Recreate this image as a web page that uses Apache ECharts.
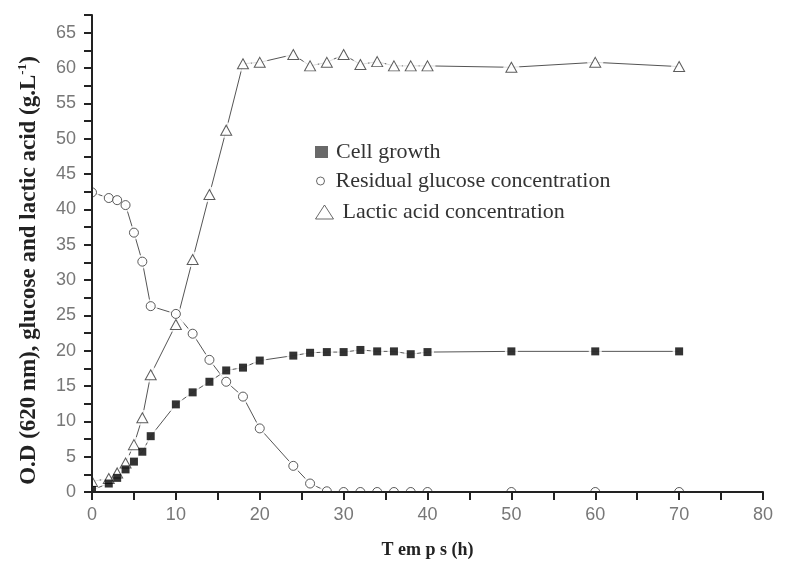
<!DOCTYPE html>
<html>
<head>
<meta charset="utf-8">
<script src="https://cdn.jsdelivr.net/npm/echarts@6/dist/echarts.min.js"></script>
<style>
  html, body { margin: 0; padding: 0; background: #fff; }
  #chart { width: 787px; height: 575px; }
</style>
</head>
<body>
<div id="chart"></div>
<script>
// ---- Data ----
const hours = [0, 2, 3, 4, 5, 6, 7, 10, 12, 14, 16, 18, 20, 24, 26, 28, 30, 32, 34, 36, 38, 40, 50, 60, 70];
const cellGrowth = [0.3, 1.2, 2.0, 3.2, 4.3, 5.7, 7.9, 12.4, 14.1, 15.6, 17.2, 17.6, 18.6, 19.3, 19.7, 19.8, 19.8, 20.1, 19.9, 19.9, 19.5, 19.8, 19.9, 19.9, 19.9];
const glucose = [42.4, 41.6, 41.3, 40.6, 36.7, 32.6, 26.3, 25.2, 22.4, 18.7, 15.6, 13.5, 9.0, 3.7, 1.2, 0.1, 0, 0, 0, 0, 0, 0, 0, 0, 0];
const lacticAcid = [1.5, 1.9, 2.7, 4.1, 6.7, 10.5, 16.6, 23.7, 32.9, 42.1, 51.2, 60.6, 60.8, 61.9, 60.3, 60.8, 61.9, 60.5, 60.9, 60.3, 60.3, 60.3, 60.1, 60.8, 60.2];
const xTickLabels = [0, 10, 20, 30, 40, 50, 60, 70, 80];
const yTickLabels = [0, 5, 10, 15, 20, 25, 30, 35, 40, 45, 50, 55, 60, 65];
const seriesNames = ['Cell growth', 'Residual glucose concentration', 'Lactic acid concentration'];

// ---- Layout / style ----
const W = 787, H = 575;
const GRID = { left: 92, right: 24, top: 15, bottom: 83 };
const LINE_COLOR = '#555';
const MARK_STROKE = '#333';

function pairs(values) { return hours.map((h, i) => [h, values[i]]); }

function layered(name, values, symbol, size, haloSymbol, haloSize, itemStyle) {
  const data = pairs(values);
  return [
    { name: name + ' (line)', type: 'line', data: data, symbol: 'none', showSymbol: false,
      lineStyle: { color: LINE_COLOR, width: 1 }, z: 2, silent: true },
    { name: name + ' (halo)', type: 'scatter', data: data, symbol: haloSymbol, symbolSize: haloSize,
      itemStyle: { color: '#fff' }, z: 3, silent: true },
    { name: name, type: 'scatter', data: data, symbol: symbol, symbolSize: size,
      itemStyle: itemStyle, z: 4 }
  ];
}

const serifFont = '"Liberation Serif", "Times New Roman", serif';
const sansFont = '"Liberation Sans", Arial, sans-serif';

const legendText = { fontFamily: serifFont, fontSize: 22, color: '#333' };

const option = {
  animation: false,
  backgroundColor: '#fff',
  grid: { left: GRID.left, right: GRID.right, top: GRID.top, bottom: GRID.bottom, containLabel: false },
  xAxis: {
    type: 'value', min: 0, max: 80, interval: 5, zlevel: 2, z: 10,
    axisLine: { show: true, onZero: false, lineStyle: { color: '#222', width: 2 } },
    axisTick: { show: true, length: 8, lineStyle: { color: '#222', width: 2 } },
    splitLine: { show: false },
    axisLabel: {
      margin: 14, color: '#777', fontSize: 18, fontFamily: sansFont,
      formatter: v => (xTickLabels.indexOf(v) >= 0 ? String(v) : '')
    },
    name: 'T em p s (h)', nameLocation: 'middle', nameGap: 49,
    nameTextStyle: { fontFamily: serifFont, fontWeight: 'bold', fontSize: 18, color: '#222' }
  },
  yAxis: {
    type: 'value', min: 0, max: 67.5, interval: 2.5, zlevel: 2, z: 10,
    axisLine: { show: true, onZero: false, lineStyle: { color: '#222', width: 2 } },
    axisTick: { show: true, length: 8, lineStyle: { color: '#222', width: 2 } },
    splitLine: { show: false },
    axisLabel: {
      margin: 16, color: '#777', fontSize: 18, fontFamily: sansFont,
      formatter: v => (yTickLabels.indexOf(v) >= 0 ? String(v) : '')
    },
    name: '{t|O.D (620 nm), glucose and lactic acid (g.L}{s|-1}{t|)}',
    nameLocation: 'middle', nameGap: 50,
    nameTextStyle: {
      padding: [0, 34, 0, 0],
      rich: {
        t: { fontFamily: serifFont, fontWeight: 'bold', fontSize: 23, color: '#222', lineHeight: 26 },
        s: { fontFamily: serifFont, fontWeight: 'bold', fontSize: 13, color: '#222', verticalAlign: 'top', lineHeight: 26 }
      }
    }
  },
  legend: [
    { data: [seriesNames[0]], left: 315, top: 141, orient: 'vertical', padding: 0, selectedMode: false,
      icon: 'rect', itemWidth: 13, itemHeight: 12,
      itemStyle: { color: '#444', borderWidth: 0 },
      textStyle: Object.assign({ padding: [0, 0, 0, 3] }, legendText) },
    { data: [seriesNames[1]], left: 316, top: 170, orient: 'vertical', padding: 0, selectedMode: false,
      icon: 'circle', itemWidth: 8, itemHeight: 8,
      itemStyle: { color: '#fff', borderColor: '#444', borderWidth: 1 },
      textStyle: Object.assign({ padding: [0, 0, 0, 6] }, legendText) },
    { data: [seriesNames[2]], left: 315, top: 201, orient: 'vertical', padding: 0, selectedMode: false,
      icon: 'triangle', itemWidth: 18, itemHeight: 14,
      itemStyle: { color: '#fff', borderColor: '#444', borderWidth: 1 },
      textStyle: Object.assign({ padding: [0, 0, 0, 4] }, legendText) }
  ],
  // white masks outside the plotting rectangle so markers are clipped at the axes (as in the reference)
  graphic: [
    { type: 'rect', silent: true, zlevel: 1, z: 0, shape: { x: 0, y: 0, width: GRID.left - 1, height: H }, style: { fill: '#fff' } },
    { type: 'rect', silent: true, zlevel: 1, z: 0, shape: { x: 0, y: H - GRID.bottom + 1, width: W, height: GRID.bottom }, style: { fill: '#fff' } }
  ],
  series: [].concat(
    layered(seriesNames[1], glucose, 'circle', 9, 'circle', 14,
      { color: '#fff', borderColor: MARK_STROKE, borderWidth: 1 }),
    layered(seriesNames[2], lacticAcid, 'triangle', [11, 10], 'circle', 16,
      { color: '#fff', borderColor: MARK_STROKE, borderWidth: 1 }),
    layered(seriesNames[0], cellGrowth, 'rect', 8, 'rect', 13,
      { color: '#000' })
  )
};

const chart = echarts.init(document.getElementById('chart'), null, { renderer: 'canvas' });
chart.setOption(option);
</script>
</body>
</html>
